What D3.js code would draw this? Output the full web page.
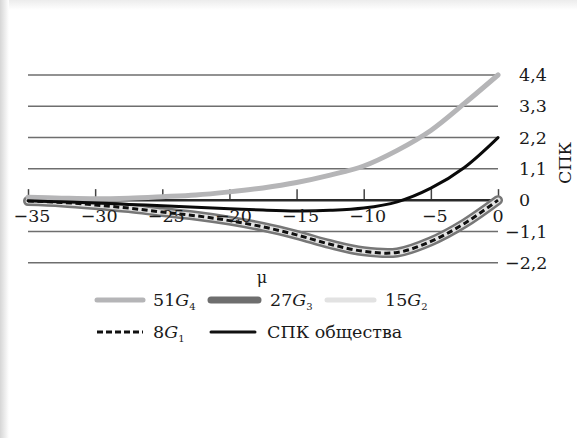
<!DOCTYPE html>
<html>
<head>
<meta charset="utf-8">
<script src="https://cdn.jsdelivr.net/npm/d3@7"></script>
<style>
  html, body { margin: 0; padding: 0; background: #fff; }
  svg { display: block; }
</style>
</head>
<body>
<svg id="chart" width="577" height="438" font-family="'DejaVu Serif', 'Liberation Serif', serif"></svg>
<script>
// μ values along the horizontal axis
const mu = [-35, -32.5, -30, -27.5, -25, -22.5, -20, -17.5, -15, -12.5, -10, -7.5, -5, -2.5, 0];

// Group contributions and the total (СПК общества)
const g4x51 = [0.10, 0.07, 0.05, 0.07, 0.12, 0.18, 0.29, 0.43, 0.62, 0.88, 1.20, 1.75, 2.45, 3.40, 4.40];
const g3x27 = [-0.03, -0.08, -0.17, -0.28, -0.42, -0.55, -0.72, -0.94, -1.22, -1.55, -1.80, -1.84, -1.45, -0.82, 0.00];
const g2x15 = [-0.03, -0.08, -0.17, -0.28, -0.42, -0.55, -0.72, -0.94, -1.22, -1.55, -1.80, -1.84, -1.45, -0.82, 0.00];
const g1x8  = [-0.03, -0.08, -0.17, -0.28, -0.42, -0.55, -0.72, -0.94, -1.22, -1.55, -1.80, -1.84, -1.45, -0.82, 0.00];
const total = [-0.02, -0.06, -0.10, -0.15, -0.20, -0.25, -0.30, -0.35, -0.38, -0.36, -0.28, -0.06, 0.42, 1.15, 2.20];

// Axis ticks
const xTicks = [-35, -30, -25, -20, -15, -10, -5, 0];
const yTicks = [-2.2, -1.1, 0, 1.1, 2.2, 3.3, 4.4];
const yTickLabels = ["−2,2", "−1,1", "0", "1,1", "2,2", "3,3", "4,4"];
const xTickLabels = ["−35", "−30", "−25", "−20", "−15", "−10", "−5", "0"];

const svg = d3.select("#chart");
const FS = 17.5;

// soft page edge on the left and top
const defs = svg.append("defs");
const gl = defs.append("linearGradient").attr("id", "edgeL").attr("x1", 0).attr("x2", 1).attr("y1", 0).attr("y2", 0);
gl.append("stop").attr("offset", 0).attr("stop-color", "#d6d6d6");
gl.append("stop").attr("offset", 1).attr("stop-color", "#ffffff");
const gt = defs.append("linearGradient").attr("id", "edgeT").attr("x1", 0).attr("x2", 0).attr("y1", 0).attr("y2", 1);
gt.append("stop").attr("offset", 0).attr("stop-color", "#ececec");
gt.append("stop").attr("offset", 1).attr("stop-color", "#ffffff");
svg.append("rect").attr("x", 0).attr("y", 0).attr("width", 577).attr("height", 10).attr("fill", "url(#edgeT)");
svg.append("rect").attr("x", 0).attr("y", 0).attr("width", 9).attr("height", 438).attr("fill", "url(#edgeL)");

const x = d3.scaleLinear().domain([-35, 0]).range([28, 498]);
const y = d3.scaleLinear().domain([-2.2, 4.4]).range([262.7, 75]);

// horizontal gridlines
svg.append("g").selectAll("line").data(yTicks.filter(v => v !== 0)).join("line")
  .attr("x1", x(-35)).attr("x2", x(0))
  .attr("y1", d => y(d)).attr("y2", d => y(d))
  .attr("stroke", "#6e6e6e").attr("stroke-width", 1.5);

// horizontal axis at zero with upward ticks
const xAxis = d3.axisTop(x).tickValues(xTicks).tickSize(11).tickFormat("");
const gx = svg.append("g").attr("transform", `translate(0,${y(0)})`).call(xAxis);
gx.select(".domain").remove();
gx.selectAll(".tick line").attr("stroke", "#444").attr("stroke-width", 1.5);
svg.append("line").attr("x1", x(-35)).attr("x2", x(0)).attr("y1", y(0)).attr("y2", y(0))
  .attr("stroke", "#2a2a2a").attr("stroke-width", 2.5);

const pts = vals => mu.map((m, i) => [m, vals[i]]);
const line = d3.line().x(d => x(d[0])).y(d => y(d[1])).curve(d3.curveCatmullRom.alpha(0.5));

// group curves: 27G3 wide dark band, 15G2 light core, 8G1 dashed
svg.append("path").attr("d", line(pts(g3x27))).attr("fill", "none")
  .attr("stroke", "#777777").attr("stroke-width", 10).attr("stroke-linecap", "round");
svg.append("path").attr("d", line(pts(g2x15))).attr("fill", "none")
  .attr("stroke", "#e4e4e4").attr("stroke-width", 5).attr("stroke-linecap", "round");
svg.append("path").attr("d", line(pts(g1x8))).attr("fill", "none")
  .attr("stroke", "#111").attr("stroke-width", 3).attr("stroke-dasharray", "6,3.5");
svg.append("path").attr("d", line(pts(g4x51))).attr("fill", "none")
  .attr("stroke", "#b5b5b7").attr("stroke-width", 5).attr("stroke-linecap", "round");
svg.append("path").attr("d", line(pts(total))).attr("fill", "none")
  .attr("stroke", "#0a0a0a").attr("stroke-width", 3).attr("stroke-linecap", "round");

// x tick labels
svg.append("g").selectAll("text").data(xTicks).join("text")
  .attr("x", d => x(d) + (d < 0 ? 4 : 0)).attr("y", 222)
  .attr("text-anchor", "middle").attr("font-size", FS).attr("fill", "#1a1a1a")
  .text((d, i) => xTickLabels[i]);

// y tick labels on the right
svg.append("g").selectAll("text").data(yTicks).join("text")
  .attr("x", d => d < 0 ? 505 : 519).attr("y", d => y(d))
  .attr("dy", "0.35em").attr("font-size", FS).attr("fill", "#1a1a1a")
  .text((d, i) => yTickLabels[i]);

// axis titles
svg.append("text").attr("transform", "translate(565,163) rotate(-90)")
  .attr("text-anchor", "middle").attr("dy", "0.35em").attr("font-size", FS).attr("fill", "#1a1a1a").text("СПК");
svg.append("text").attr("x", 262).attr("y", 283).attr("text-anchor", "middle")
  .attr("font-size", 16).attr("fill", "#1a1a1a").text("μ");

// legend
const legend = [
  { n: "51", s: "4", x0: 97, x1: 143, ty: 300, tx: 153, stroke: "#b5b5b7", w: 5, dash: null },
  { n: "27", s: "3", x0: 211, x1: 258, ty: 300, tx: 270, stroke: "#6e6e6e", w: 7, dash: null },
  { n: "15", s: "2", x0: 327, x1: 374, ty: 300, tx: 385, stroke: "#e2e2e2", w: 5, dash: null },
  { n: "8",  s: "1", x0: 97, x1: 143, ty: 332, tx: 153, stroke: "#111", w: 3, dash: "6,3" },
  { n: null, s: null, x0: 211, x1: 255, ty: 332, tx: 267, stroke: "#111", w: 3, dash: null, label: "СПК общества" }
];
legend.forEach(l => {
  svg.append("line").attr("x1", l.x0).attr("x2", l.x1).attr("y1", l.ty).attr("y2", l.ty)
    .attr("stroke", l.stroke).attr("stroke-width", l.w)
    .attr("stroke-linecap", l.dash ? "butt" : "round")
    .attr("stroke-dasharray", l.dash);
  const t = svg.append("text").attr("x", l.tx).attr("y", l.ty).attr("dy", "0.35em")
    .attr("font-size", FS).attr("fill", "#1a1a1a");
  if (l.label) {
    t.text(l.label);
  } else {
    t.append("tspan").text(l.n);
    t.append("tspan").attr("font-style", "italic").text("G");
    t.append("tspan").attr("font-size", 10).attr("dy", 4).text(l.s);
  }
});
</script>
</body>
</html>
